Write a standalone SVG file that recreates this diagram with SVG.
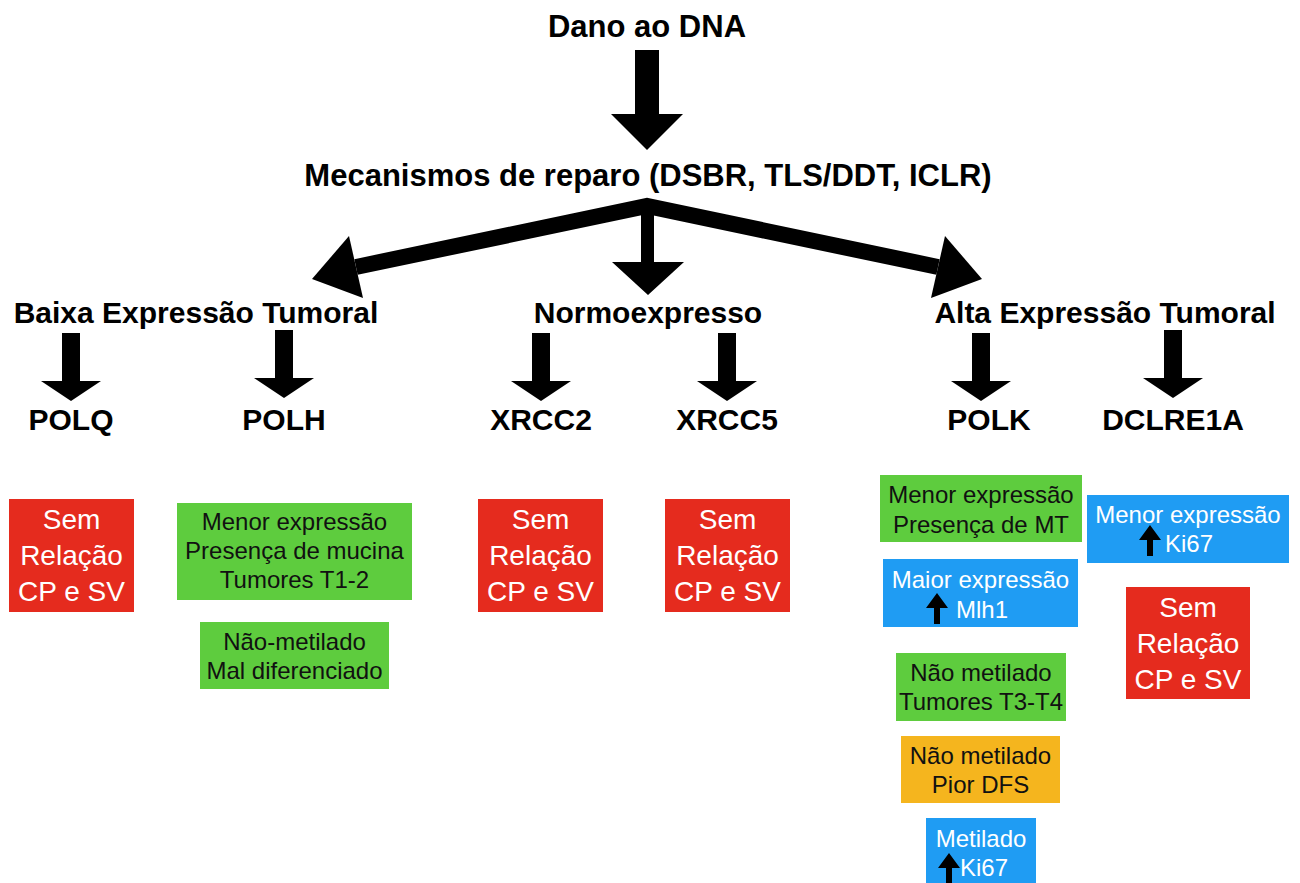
<svg xmlns="http://www.w3.org/2000/svg" width="1300" height="883" viewBox="0 0 1300 883">
  <defs>
    <style>
      .h { font-family: "Liberation Sans", Arial, sans-serif; font-weight: bold; fill: #000; text-anchor: middle; }
      .t1 { font-size: 31px; }
      .t2 { font-size: 30px; }
      .box { font-family: "Liberation Sans", Arial, sans-serif; text-anchor: middle; }
      .box.st { text-anchor: start; }
      .big { font-size: 28px; fill: #fff; }
      .sm { font-size: 24px; fill: #111; }
      .wt { fill: #fff; }
      .red { fill: #e52b1e; }
      .green { fill: #5ecc3e; }
      .blue { fill: #1f9cf3; }
      .orange { fill: #f5b51e; }
      .arr { fill: #000; }
    </style>
    <!-- small downward arrow, origin at shaft top centre -->
    <path id="down" d="M -9 0 H 9 V 48 H 30 L 0 68 L -30 48 H -9 Z"/>
    <!-- tiny upward arrow used inside the blue boxes, origin at tip -->
    <path id="up" d="M 0 0 L 11 15 H 3 V 31 H -3 V 15 H -11 Z"/>
  </defs>

  <rect width="1300" height="883" fill="#fff"/>

  <!-- titles -->
  <g id="dano">
    <text class="h t1" x="647" y="37">Dano ao DNA</text>
  </g>
  <g id="mecanismos">
    <text class="h t1" x="648" y="186">Mecanismos de reparo (DSBR, TLS/DDT, ICLR)</text>
  </g>

  <!-- expression levels -->
  <g id="baixa"><text class="h t2" x="196" y="323">Baixa Expressão Tumoral</text></g>
  <g id="normo"><text class="h t2" x="648" y="323">Normoexpresso</text></g>
  <g id="alta"><text class="h t2" x="1105" y="323">Alta Expressão Tumoral</text></g>

  <!-- genes -->
  <g id="polq"><text class="h t2" x="71" y="430">POLQ</text></g>
  <g id="polh"><text class="h t2" x="284" y="430">POLH</text></g>
  <g id="xrcc2"><text class="h t2" x="541" y="430">XRCC2</text></g>
  <g id="xrcc5"><text class="h t2" x="727" y="430">XRCC5</text></g>
  <g id="polk"><text class="h t2" x="989" y="430">POLK</text></g>
  <g id="dclre1a"><text class="h t2" x="1173" y="430">DCLRE1A</text></g>

  <!-- connectors -->
  <g id="connectors" class="arr">
    <path d="M 635 50 H 659 V 114 H 683 L 647 150 L 611 114 H 635 Z"/>
    <polyline points="356,267 647,206 938,267" fill="none" stroke="#000" stroke-width="16" stroke-linejoin="miter" stroke-miterlimit="10"/>
    <polygon points="312,279 349,236 363,298"/>
    <polygon points="982,279 945,236 931,298"/>
    <path d="M 641 206 H 654 V 262 H 684 L 648 295 L 612 262 H 641 Z"/>
    <use href="#down" x="71" y="333"/>
    <use href="#down" x="284" y="330"/>
    <use href="#down" x="541" y="333"/>
    <use href="#down" x="727" y="333"/>
    <use href="#down" x="981" y="333"/>
    <use href="#down" x="1173" y="330"/>
  </g>

  <!-- POLQ -->
  <g id="polq-sem">
    <rect class="red" x="9" y="499" width="125" height="113"/>
    <text class="box big" x="71.5" y="529">Sem</text>
    <text class="box big" x="71.5" y="565">Relação</text>
    <text class="box big" x="71.5" y="601">CP e SV</text>
  </g>

  <!-- POLH -->
  <g id="polh-menor">
    <rect class="green" x="177" y="503" width="235" height="97"/>
    <text class="box sm" x="294.5" y="530">Menor expressão</text>
    <text class="box sm" x="294.5" y="559">Presença de mucina</text>
    <text class="box sm" x="294.5" y="588">Tumores T1-2</text>
  </g>
  <g id="polh-nao">
    <rect class="green" x="200" y="622" width="189" height="67"/>
    <text class="box sm" x="294.5" y="650">Não-metilado</text>
    <text class="box sm" x="294.5" y="679">Mal diferenciado</text>
  </g>

  <!-- XRCC2 / XRCC5 -->
  <g id="xrcc2-sem">
    <rect class="red" x="478" y="499" width="125" height="113"/>
    <text class="box big" x="540.5" y="529">Sem</text>
    <text class="box big" x="540.5" y="565">Relação</text>
    <text class="box big" x="540.5" y="601">CP e SV</text>
  </g>
  <g id="xrcc5-sem">
    <rect class="red" x="665" y="499" width="125" height="113"/>
    <text class="box big" x="727.5" y="529">Sem</text>
    <text class="box big" x="727.5" y="565">Relação</text>
    <text class="box big" x="727.5" y="601">CP e SV</text>
  </g>

  <!-- POLK -->
  <g id="polk-menor">
    <rect class="green" x="880" y="475" width="202" height="67"/>
    <text class="box sm" x="981" y="503">Menor expressão</text>
    <text class="box sm" x="981" y="533">Presença de MT</text>
  </g>
  <g id="polk-maior">
    <rect class="blue" x="883" y="559" width="195" height="68"/>
    <text class="box sm wt" x="980.5" y="588">Maior expressão</text>
    <use href="#up" x="937" y="593" class="arr"/>
    <text class="box st sm wt" x="956" y="618">Mlh1</text>
  </g>
  <g id="polk-t3t4">
    <rect class="green" x="896" y="653" width="170" height="68"/>
    <text class="box sm" x="981" y="681">Não metilado</text>
    <text class="box sm" x="981" y="710">Tumores T3-T4</text>
  </g>
  <g id="polk-dfs">
    <rect class="orange" x="901" y="736" width="159" height="67"/>
    <text class="box sm" x="980.5" y="764">Não metilado</text>
    <text class="box sm" x="980.5" y="793">Pior DFS</text>
  </g>
  <g id="polk-metilado">
    <rect class="blue" x="926" y="818" width="110" height="70"/>
    <text class="box sm wt" x="981" y="847">Metilado</text>
    <use href="#up" x="949" y="853" class="arr"/>
    <text class="box st sm wt" x="960" y="876">Ki67</text>
  </g>

  <!-- DCLRE1A -->
  <g id="dclre1a-menor">
    <rect class="blue" x="1087" y="495" width="202" height="68"/>
    <text class="box sm wt" x="1188" y="523">Menor expressão</text>
    <use href="#up" x="1150" y="525" class="arr"/>
    <text class="box st sm wt" x="1165" y="552">Ki67</text>
  </g>
  <g id="dclre1a-sem">
    <rect class="red" x="1126" y="587" width="124" height="112"/>
    <text class="box big" x="1188" y="617">Sem</text>
    <text class="box big" x="1188" y="653">Relação</text>
    <text class="box big" x="1188" y="689">CP e SV</text>
  </g>
</svg>
